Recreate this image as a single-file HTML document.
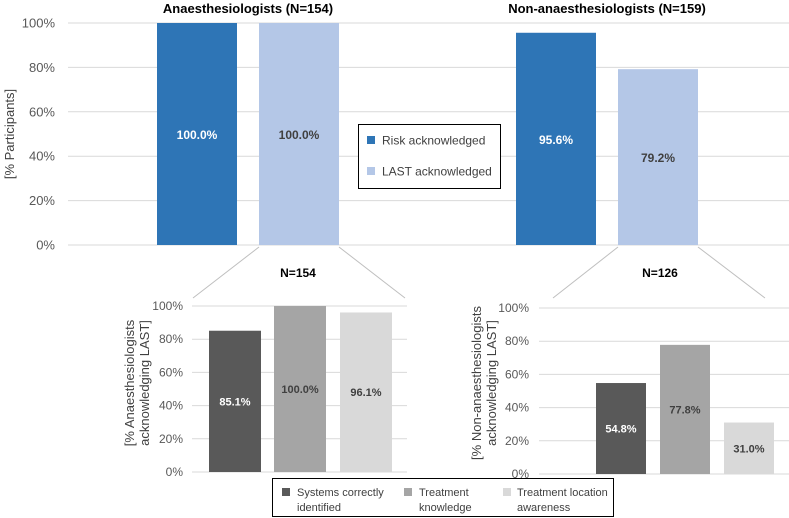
<!DOCTYPE html>
<html><head><meta charset="utf-8"><style>
html,body{margin:0;padding:0;background:#fff;}
svg{display:block;font-family:"Liberation Sans",sans-serif;}
</style></head><body>
<svg id="c" width="789" height="518" viewBox="0 0 789 518"></svg>
<script>
const mainGroups = ["Anaesthesiologists (N=154)", "Non-anaesthesiologists (N=159)"];
const riskVals = [100.0, 95.6];
const lastVals = [100.0, 79.2];
const anaesVals = [85.1, 100.0, 96.1];
const nonAnaesVals = [54.8, 77.8, 31.0];
const subCategories = ["Systems correctly identified", "Treatment knowledge", "Treatment location awareness"];
const tickVals = [0, 20, 40, 60, 80, 100];

const NS = "http://www.w3.org/2000/svg";
const svg = document.getElementById("c");
function el(tag, attrs, parent) {
  const e = document.createElementNS(NS, tag);
  for (const k in attrs) e.setAttribute(k, attrs[k]);
  (parent || svg).appendChild(e);
  return e;
}
function txt(s, attrs, name) {
  const t = el("text", attrs);
  t.textContent = s;
  
  
  return t;
}

const mY0 = 245, mY1 = 23;
const my = v => mY0 - (mY0 - mY1) * v / 100;
tickVals.forEach(v => {
  const l = el("line", {x1: 68, x2: 789, y1: my(v), y2: my(v), stroke: "#d9d9d9", "stroke-width": 1});
  
  
  txt(v + "%", {x: 55, y: my(v) + 4.5, "text-anchor": "end", "font-size": 13, fill: "#595959"}, 'main-y-tick-label');
});
txt("[% Participants]", {x: 0, y: 0, "text-anchor": "middle", "font-size": 13, fill: "#404040", transform: "translate(14,134) rotate(-90)"}, 'main-y-axis-title');

const groupX = [157, 516];
mainGroups.forEach((g, i) => {
  const x0 = groupX[i];
  const b1 = el("rect", {x: x0, y: my(riskVals[i]), width: 80, height: mY0 - my(riskVals[i]), fill: "#2e75b6"});
  
  
  const b2 = el("rect", {x: x0 + 102, y: my(lastVals[i]), width: 80, height: mY0 - my(lastVals[i]), fill: "#b4c7e7"});
  
  
  txt(riskVals[i].toFixed(1) + "%", {x: x0 + 40, y: (my(riskVals[i]) + mY0) / 2 + 5, "text-anchor": "middle", "font-size": 12, "font-weight": "bold", fill: "#fff"}, 'data-label-risk');
  txt(lastVals[i].toFixed(1) + "%", {x: x0 + 142, y: (my(lastVals[i]) + mY0) / 2 + 5, "text-anchor": "middle", "font-size": 12, "font-weight": "bold", fill: "#404040"}, 'data-label-last');
  txt(g, {x: x0 + 91, y: 13, "text-anchor": "middle", "font-size": 13, "font-weight": "bold", fill: "#000"}, 'group-title');
});

const lg = el("rect", {x: 358.5, y: 124.5, width: 142, height: 64, fill: "#fff", stroke: "#000", "stroke-width": 1});


[["Risk acknowledged", "#2e75b6", 141], ["LAST acknowledged", "#b4c7e7", 172]].forEach(([s, c, y]) => {
  const r = el("rect", {x: 367, y: y - 5, width: 8, height: 8, fill: c});
  
  
  txt(s, {x: 382, y: y + 3.5, "font-size": 12, fill: "#404040"}, 'legend-entry');
});

[[259, 247, 193, 298], [339, 247, 405, 298], [618, 247, 553, 298], [698, 247, 765, 298]].forEach(p => {
  const l = el("line", {x1: p[0], y1: p[1], x2: p[2], y2: p[3], stroke: "#bfbfbf", "stroke-width": 1});
  
  
});

const subColors = ["#595959", "#a5a5a5", "#d9d9d9"];
const labelColors = ["#fff", "#404040", "#404040"];
function subChart(vals, opt) {
  const sy = v => opt.y0 - (opt.y0 - opt.y1) * v / 100;
  tickVals.forEach(v => {
    const l = el("line", {x1: opt.gx0, x2: opt.gx1, y1: sy(v), y2: sy(v), stroke: "#d9d9d9", "stroke-width": 1});
    
    
    txt(v + "%", {x: opt.lx, y: sy(v) + 4, "text-anchor": "end", "font-size": 12, fill: "#595959"}, opt.name + '-y-tick-label');
  });
  vals.forEach((v, i) => {
    const x = opt.bx[i];
    const r = el("rect", {x: x, y: sy(v), width: opt.bw, height: opt.y0 - sy(v), fill: subColors[i]});
    
    
    txt(v.toFixed(1) + "%", {x: x + opt.bw / 2, y: (sy(v) + opt.y0) / 2 + 4, "text-anchor": "middle", "font-size": 11, "font-weight": "bold", fill: labelColors[i]}, opt.name + '-data-label');
  });
  txt(opt.title, {x: opt.tx, y: 277, "text-anchor": "middle", "font-size": 12, "font-weight": "bold", fill: "#000"}, opt.name + '-title');
  const t = el("text", {transform: `translate(${opt.ax},${opt.ay}) rotate(-90)`, "text-anchor": "middle", "font-size": 13, fill: "#404040"});
  
  
  opt.axis.forEach((s, k) => {
    const ts = el("tspan", {x: 0, y: k * 15}, t);
    ts.textContent = s;
  });
}
subChart(anaesVals, {name: "anaes", y0: 472, y1: 306, gx0: 192, gx1: 407, lx: 183, bx: [209, 274, 340], bw: 52, title: "N=154", tx: 298, ax: 134, ay: 383, axis: ["[% Anaesthesiologists", "acknowledging LAST]"]});
subChart(nonAnaesVals, {name: "non-anaes", y0: 474, y1: 308, gx0: 539, gx1: 789, lx: 529, bx: [596, 660, 724], bw: 50, title: "N=126", tx: 660, ax: 481, ay: 383, axis: ["[% Non-anaesthesiologists", "acknowledging LAST]"]});

const bl = el("rect", {x: 272.5, y: 478.5, width: 341, height: 38, fill: "#fff", stroke: "#000", "stroke-width": 1});


const lx = [[282, 297, ["Systems correctly", "identified"]], [404, 419, ["Treatment", "knowledge"]], [503, 517, ["Treatment location", "awareness"]]];
lx.forEach((p, i) => {
  const r = el("rect", {x: p[0], y: 488, width: 8, height: 8, fill: subColors[i]});
  
  
  txt(p[2][0], {x: p[1], y: 496, "font-size": 11, fill: "#404040"}, 'sub-legend-entry');
  txt(p[2][1], {x: p[1], y: 511, "font-size": 11, fill: "#404040"}, 'sub-legend-entry-line2');
});
</script>
</body></html>
